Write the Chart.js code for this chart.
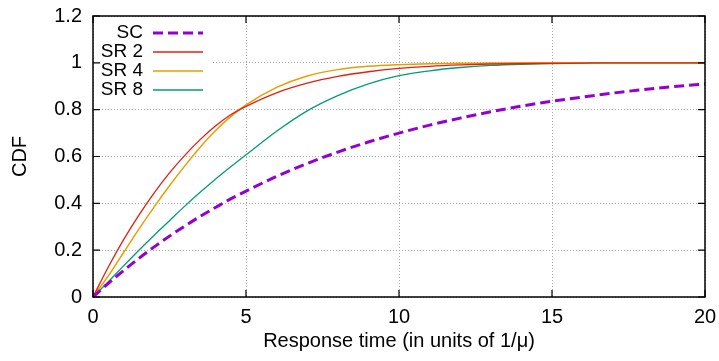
<!DOCTYPE html>
<html><head><meta charset="utf-8">
<script src="https://cdn.jsdelivr.net/npm/chart.js@4.4.0/dist/chart.umd.min.js"></script>
<style>html,body{margin:0;padding:0;background:#fff}canvas{display:block}</style>
</head><body>
<canvas id="c" width="719" height="361"></canvas>
<script>
// Response time (in units of 1/mu)
const times = [0,0.5,1,1.5,2,2.5,3,3.5,4,4.5,5,6,7,8,9,10,11,12,13,14,15,16,17,18,19,20];
const sc  = [0,0.058,0.113,0.165,0.214,0.26,0.303,0.344,0.382,0.419,0.452,0.515,0.57,0.619,0.662,0.7,0.734,0.764,0.791,0.815,0.836,0.854,0.871,0.886,0.899,0.91];
const sr2 = [0,0.128,0.245,0.35,0.445,0.53,0.605,0.672,0.73,0.778,0.814,0.872,0.913,0.942,0.962,0.976,0.985,0.991,0.995,0.997,0.998,0.999,1,1,1,1];
const sr4 = [0,0.09,0.19,0.29,0.385,0.475,0.56,0.64,0.71,0.77,0.82,0.895,0.944,0.971,0.985,0.992,0.996,0.998,0.999,1,1,1,1,1,1,1];
const sr8 = [0,0.065,0.133,0.2,0.264,0.326,0.388,0.447,0.503,0.556,0.607,0.708,0.795,0.86,0.91,0.945,0.966,0.98,0.989,0.994,0.997,0.999,1,1,1,1];
const seriesNames = ['SC','SR 2','SR 4','SR 8'];
const xTicks = [0,5,10,15,20];
const yTicks = [0,0.2,0.4,0.6,0.8,1,1.2];
const xTitle = 'Response time (in units of 1/\u03bc)';
const yTitle = 'CDF';

const FONT = '"Liberation Sans", Arial, Helvetica, sans-serif';
const toPts = arr => arr.map((v, i) => ({x: times[i], y: v}));

const styles = [
  {borderColor: '#9400d3', borderWidth: 3, borderDash: [10, 5]},
  {borderColor: '#e51e10', borderWidth: 1.3, borderDash: []},
  {borderColor: '#e69f00', borderWidth: 1.5, borderDash: []},
  {borderColor: '#009e73', borderWidth: 1.3, borderDash: []}
];
const series = [sc, sr2, sr4, sr8];

const framePlugin = {
  id: 'gnuFrame',
  afterDraw(chart) {
    const {ctx, chartArea: a, scales: {x, y}} = chart;
    ctx.save();
    // legend box (opaque)
    const lx = a.left, ly = a.top + 4, lw = 119, rowH = 19;
    ctx.fillStyle = '#fff';
    ctx.fillRect(lx + 1, ly, lw, rowH * chart.data.datasets.length + 6);
    ctx.font = '19px ' + FONT;
    ctx.textAlign = 'right';
    ctx.textBaseline = 'middle';
    chart.data.datasets.forEach((ds, i) => {
      const cy = ly + 13 + i * rowH;
      ctx.fillStyle = '#000';
      ctx.setLineDash([]);
      ctx.fillText(ds.label, lx + 50, cy);
      ctx.strokeStyle = ds.borderColor;
      ctx.lineWidth = ds.borderWidth;
      ctx.setLineDash(ds.borderDash || []);
      ctx.beginPath();
      ctx.moveTo(lx + 60, cy);
      ctx.lineTo(lx + 110, cy);
      ctx.stroke();
    });
    // frame
    ctx.setLineDash([]);
    ctx.strokeStyle = '#000';
    ctx.lineWidth = 1.5;
    ctx.strokeRect(a.left, a.top, a.right - a.left, a.bottom - a.top);
    // inward mirrored ticks
    ctx.lineWidth = 1.2;
    const tl = 7;
    ctx.beginPath();
    xTicks.forEach(v => {
      const px = x.getPixelForValue(v);
      ctx.moveTo(px, a.bottom); ctx.lineTo(px, a.bottom - tl);
      ctx.moveTo(px, a.top); ctx.lineTo(px, a.top + tl);
    });
    yTicks.forEach(v => {
      const py = y.getPixelForValue(v);
      ctx.moveTo(a.left, py); ctx.lineTo(a.left + tl, py);
      ctx.moveTo(a.right, py); ctx.lineTo(a.right - tl, py);
    });
    ctx.stroke();
    ctx.restore();
  }
};

const zeroPad = s => { s.paddingTop = 0; s.paddingBottom = 0; s.paddingLeft = 0; s.paddingRight = 0; };

new Chart(document.getElementById('c'), {
  type: 'line',
  data: {
    datasets: series.map((s, i) => Object.assign({
      label: seriesNames[i],
      data: toPts(s),
      pointRadius: 0,
      fill: false,
      cubicInterpolationMode: 'monotone'
    }, styles[i]))
  },
  options: {
    responsive: false,
    animation: false,
    events: [],
    layout: {autoPadding: false, padding: {top: 16, right: 14, left: 0, bottom: 0}},
    plugins: {legend: {display: false}, tooltip: {enabled: false}},
    scales: {
      x: {
        type: 'linear', min: 0, max: 20,
        afterBuildTicks: s => { s.ticks = xTicks.map(v => ({value: v})); },
        afterFit: s => { s.height = 64; zeroPad(s); },
        grid: {color: '#a8a8a8', lineWidth: 1, drawTicks: false},
        border: {display: false, dash: [1, 2]},
        ticks: {padding: 8, color: '#000', font: {family: FONT, size: 20}, maxRotation: 0,
                callback: v => String(v)},
        title: {display: true, text: xTitle, color: '#000', font: {family: FONT, size: 20},
                padding: {top: 0, bottom: 8}}
      },
      y: {
        type: 'linear', min: 0, max: 1.2,
        afterBuildTicks: s => { s.ticks = yTicks.map(v => ({value: v})); },
        afterFit: s => { s.width = 93; zeroPad(s); },
        grid: {color: '#a8a8a8', lineWidth: 1, drawTicks: false},
        border: {display: false, dash: [1, 2]},
        ticks: {padding: 11, color: '#000', font: {family: FONT, size: 20},
                callback: v => String(Math.round(v * 10) / 10)},
        title: {display: true, text: yTitle, color: '#000', font: {family: FONT, size: 20},
                padding: {top: 8, bottom: 0}}
      }
    }
  },
  plugins: [framePlugin]
});
</script>
</body></html>
